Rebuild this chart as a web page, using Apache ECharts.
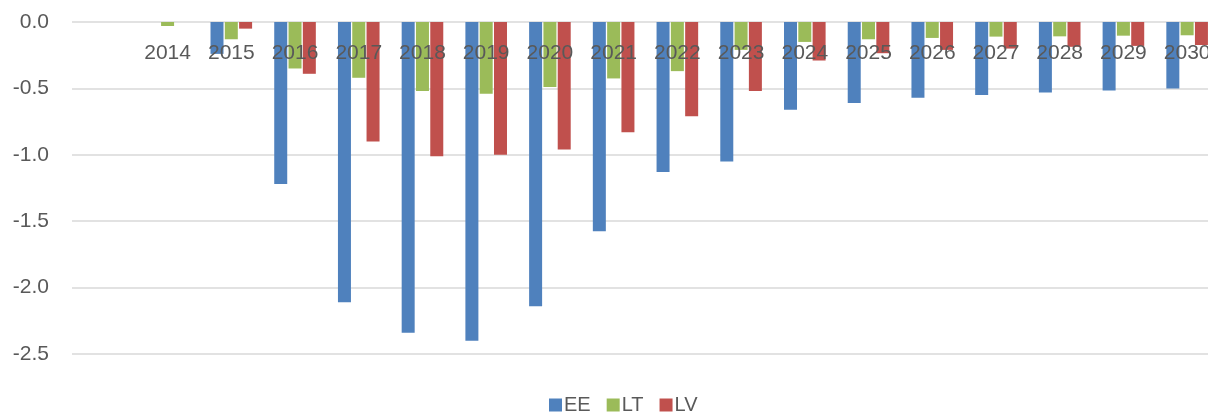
<!DOCTYPE html>
<html>
<head>
<meta charset="utf-8">
<script src="https://cdn.jsdelivr.net/npm/echarts@6/dist/echarts.min.js"></script>
<style>
  html, body { margin: 0; padding: 0; background: #ffffff; overflow: hidden; }
  /* the plot runs a little past the right edge of the page */
  #chart { width: 1219px; height: 415px; }
</style>
</head>
<body>
<div id="chart"></div>
<script>
// Year categories (the leading slot is an unlabeled spacer)
const years = ['', '2014', '2015', '2016', '2017', '2018', '2019', '2020', '2021', '2022',
               '2023', '2024', '2025', '2026', '2027', '2028', '2029', '2030'];

// Series values
const eeValues = [null, null, -0.24, -1.22, -2.11, -2.34, -2.40, -2.14, -1.575, -1.13,
                  -1.05, -0.66, -0.61, -0.57, -0.55, -0.53, -0.515, -0.50];
const ltValues = [null, -0.03, -0.13, -0.35, -0.42, -0.52, -0.54, -0.49, -0.425, -0.37,
                  -0.21, -0.15, -0.13, -0.12, -0.11, -0.108, -0.103, -0.10];
const lvValues = [null, null, -0.05, -0.39, -0.90, -1.01, -1.00, -0.96, -0.83, -0.71,
                  -0.52, -0.29, -0.235, -0.21, -0.20, -0.187, -0.18, -0.173];

// Value axis ticks
const yMin = -2.5, yMax = 0, yStep = 0.5;

const seriesNames = ['EE', 'LT', 'LV'];
const seriesColors = ['#4F81BD', '#9BBB59', '#C0504D'];
const seriesData = [eeValues, ltValues, lvValues];

const FONT = '"Liberation Sans", Arial, sans-serif';
const TEXT = '#595959';

const chart = echarts.init(document.getElementById('chart'), null, { renderer: 'canvas' });

chart.setOption({
  animation: false,
  backgroundColor: '#ffffff',
  grid: { left: 72, top: 22, right: 0, height: 332 },
  legend: {
    data: seriesNames,
    left: 549,
    top: 395,
    padding: 0,
    itemWidth: 13,
    itemHeight: 13,
    itemGap: 16,
    icon: 'rect',
    textStyle: { color: TEXT, fontSize: 20, fontFamily: FONT, padding: [0, 0, 0, -3] }
  },
  xAxis: {
    type: 'category',
    data: years,
    // the zero line is the top edge; category labels hang just beneath it
    position: 'top',
    z: 5,
    axisLine: { show: false, onZero: false },
    axisTick: { show: false },
    axisLabel: {
      inside: true,
      color: TEXT, fontSize: 21, fontFamily: FONT, margin: 21, interval: 0
    },
    splitLine: { show: false }
  },
  yAxis: {
    type: 'value',
    min: yMin,
    max: yMax,
    interval: yStep,
    axisLine: { show: false },
    axisTick: { show: false },
    axisLabel: {
      color: TEXT, fontSize: 21, fontFamily: FONT, margin: 23,
      formatter: v => v.toFixed(1)
    },
    splitLine: { lineStyle: { color: '#d9d9d9', width: 1.5 } }
  },
  series: seriesNames.map((name, i) => ({
    name,
    type: 'bar',
    data: seriesData[i],
    barWidth: 13,
    barGap: '10%',
    itemStyle: { color: seriesColors[i] }
  }))
});
</script>
</body>
</html>
